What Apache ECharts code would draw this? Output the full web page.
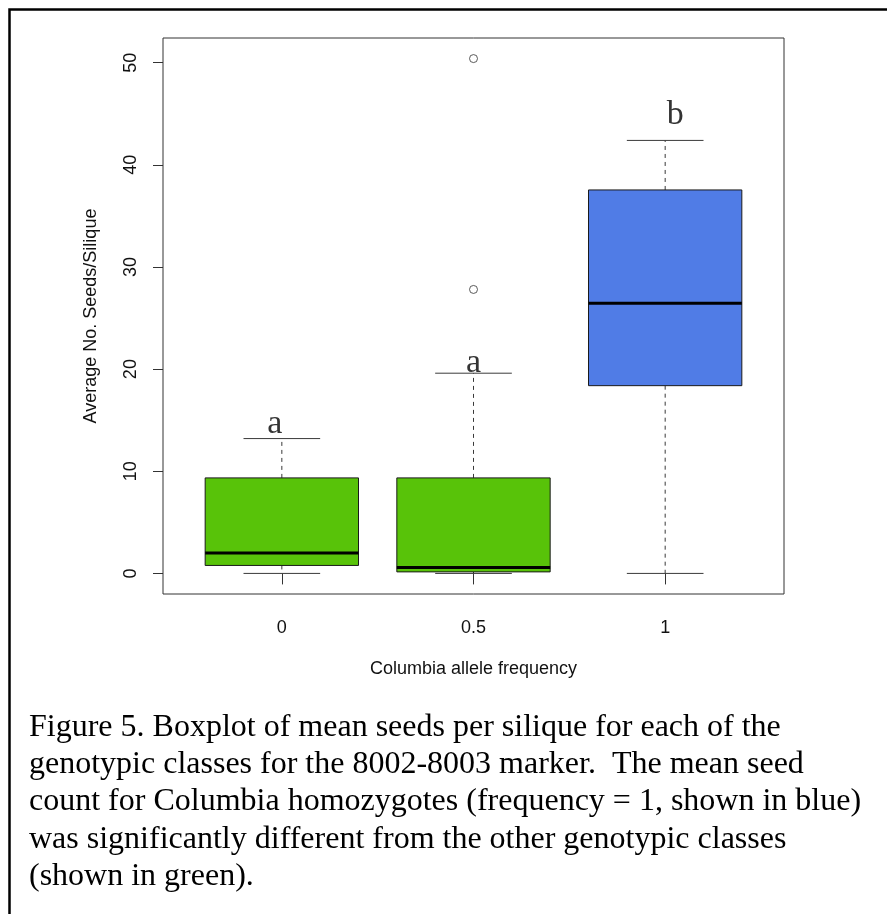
<!DOCTYPE html>
<html>
<head>
<meta charset="utf-8">
<script src="https://cdn.jsdelivr.net/npm/echarts@6/dist/echarts.min.js"></script>
<style>
html,body{margin:0;padding:0;background:#fff;}
#chart{width:887px;height:914px;}
</style>
</head>
<body>
<div id="chart"></div>
<script>
// ---- data ----
const categories = ['0', '0.5', '1'];
const whiskerLow = [0, 0, 0];
const quartile1 = [0.78, 0.15, 18.38];
const medians = [2.0, 0.58, 26.45];
const quartile3 = [9.35, 9.35, 37.54];
const whiskerHigh = [13.2, 19.6, 42.39];
const boxColors = ['#58C309', '#58C309', '#507CE6'];
const outlierGroup = [1, 1];
const outlierValue = [27.8, 50.4];
const yTicks = [0, 10, 20, 30, 40, 50];
const letterText = ['a', 'a', 'b'];
const letterGroup = [0, 1, 2];
const letterY = [14.6, 20.6, 44.9];
const xTitle = 'Columbia allele frequency';
const yTitle = 'Average No. Seeds/Silique';
const captionLines = [
  'Figure 5. Boxplot of mean seeds per silique for each of the',
  'genotypic classes for the 8002-8003 marker.  The mean seed',
  'count for Columbia homozygotes (frequency = 1, shown in blue)',
  'was significantly different from the other genotypic classes',
  '(shown in green).'
];

// R-style axis range: data range extended by 4%
const dataMax = Math.max(Math.max(...whiskerHigh), Math.max(...outlierValue));
const dataMin = Math.min(...whiskerLow);
const pad = (dataMax - dataMin) * 0.04;
const yMin = dataMin - pad, yMax = dataMax + pad;

const boxData = categories.map((c, i) => [i, whiskerLow[i], quartile1[i], medians[i], quartile3[i], whiskerHigh[i]]);
const outlierData = outlierGroup.map((g, i) => [g, outlierValue[i]]);
const letterOffsets = [[-7, 0], [0, 0], [10, 0]];
const letterData = letterText.map((t, i) => ({ value: [letterGroup[i], letterY[i]], name: t, label: { offset: letterOffsets[i] } }));

const SANS = '"Liberation Sans", Arial, Helvetica, sans-serif';
const SERIF = '"Liberation Serif", "Times New Roman", serif';

const chart = echarts.init(document.getElementById('chart'), null, { renderer: 'canvas' });

chart.setOption({
  animation: false,
  backgroundColor: '#fff',
  title: {
    text: captionLines.join('\n'),
    left: 24,
    top: 704,
    textStyle: { fontFamily: SERIF, fontSize: 32, fontWeight: 'normal', color: '#000', lineHeight: 37.2 }
  },
  graphic: [{
    type: 'rect', silent: true,
    shape: { x: 9.5, y: 9.5, width: 1000, height: 1000 },
    style: { fill: 'none', stroke: '#000', lineWidth: 2.5 }
  }],
  grid: [
    { left: 186, top: 38, width: 575, height: 556, show: false },
    { left: 163, top: 38, width: 621, height: 556, show: true, borderColor: '#333', borderWidth: 1, backgroundColor: 'transparent' }
  ],
  xAxis: [
    {
      gridIndex: 0, type: 'category', data: categories, boundaryGap: true,
      axisLine: { show: false },
      axisTick: { show: true, alignWithLabel: true, length: 11, lineStyle: { color: '#333', width: 1 } },
      axisLabel: { show: true, margin: 25, fontFamily: SANS, fontSize: 18, color: '#111' },
      splitLine: { show: false },
      name: xTitle, nameLocation: 'middle', nameGap: 66,
      nameTextStyle: { fontFamily: SANS, fontSize: 18, color: '#111' }
    },
    {
      gridIndex: 1, type: 'value', min: 0, max: 1, show: false
    }
  ],
  yAxis: [
    { gridIndex: 0, type: 'value', min: yMin, max: yMax, show: false, splitLine: { show: false } },
    {
      gridIndex: 1, type: 'value', min: yMin, max: yMax,
      axisLine: { show: false },
      axisTick: { show: true, length: 10, customValues: yTicks, lineStyle: { color: '#333', width: 1 } },
      axisLabel: { show: true, rotate: 90, margin: 23, customValues: yTicks, fontFamily: SANS, fontSize: 18, color: '#111' },
      splitLine: { show: false },
      name: yTitle, nameLocation: 'middle', nameGap: 63, nameRotate: 90,
      nameTextStyle: { fontFamily: SANS, fontSize: 18, color: '#111' }
    }
  ],
  series: [
    {
      type: 'custom', xAxisIndex: 0, yAxisIndex: 0,
      data: boxData,
      encode: { x: 0, y: [1, 2, 3, 4, 5] },
      renderItem: function (params, api) {
        const i = api.value(0);
        const unit = api.size([1, 0])[0];
        const cx = api.coord([i, api.value(3)])[0];
        const yLo = api.coord([i, api.value(1)])[1];
        const yQ1 = api.coord([i, api.value(2)])[1];
        const yMd = api.coord([i, api.value(3)])[1];
        const yQ3 = api.coord([i, api.value(4)])[1];
        const yHi = api.coord([i, api.value(5)])[1];
        const hb = unit * 0.4, hs = unit * 0.2;
        const wStyle = { stroke: '#3a3a3a', lineWidth: 1, lineDash: [4, 4] };
        const sStyle = { stroke: '#3a3a3a', lineWidth: 1 };
        return {
          type: 'group',
          children: [
            { type: 'line', shape: { x1: cx, y1: yQ3, x2: cx, y2: yHi }, style: wStyle },
            { type: 'line', shape: { x1: cx, y1: yQ1, x2: cx, y2: yLo }, style: wStyle },
            { type: 'line', shape: { x1: cx - hs, y1: yHi, x2: cx + hs, y2: yHi }, style: sStyle },
            { type: 'line', shape: { x1: cx - hs, y1: yLo, x2: cx + hs, y2: yLo }, style: sStyle },
            { type: 'rect', shape: { x: cx - hb, y: yQ3, width: 2 * hb, height: yQ1 - yQ3 },
              style: { fill: boxColors[params.dataIndex], stroke: '#1a1a1a', lineWidth: 1 } },
            { type: 'line', shape: { x1: cx - hb, y1: yMd, x2: cx + hb, y2: yMd }, style: { stroke: '#000', lineWidth: 3 } }
          ]
        };
      },
      z: 2
    },
    {
      type: 'scatter', xAxisIndex: 0, yAxisIndex: 0,
      data: outlierData,
      symbol: 'circle', symbolSize: 8,
      itemStyle: { color: '#fff', borderColor: '#333', borderWidth: 1 },
      z: 3
    },
    {
      type: 'scatter', xAxisIndex: 0, yAxisIndex: 0,
      data: letterData,
      symbolSize: 0,
      label: {
        show: true, position: 'inside', formatter: '{b}',
        fontFamily: SERIF, fontSize: 34, color: '#000'
      },
      z: 4
    }
  ]
});
</script>
</body>
</html>
